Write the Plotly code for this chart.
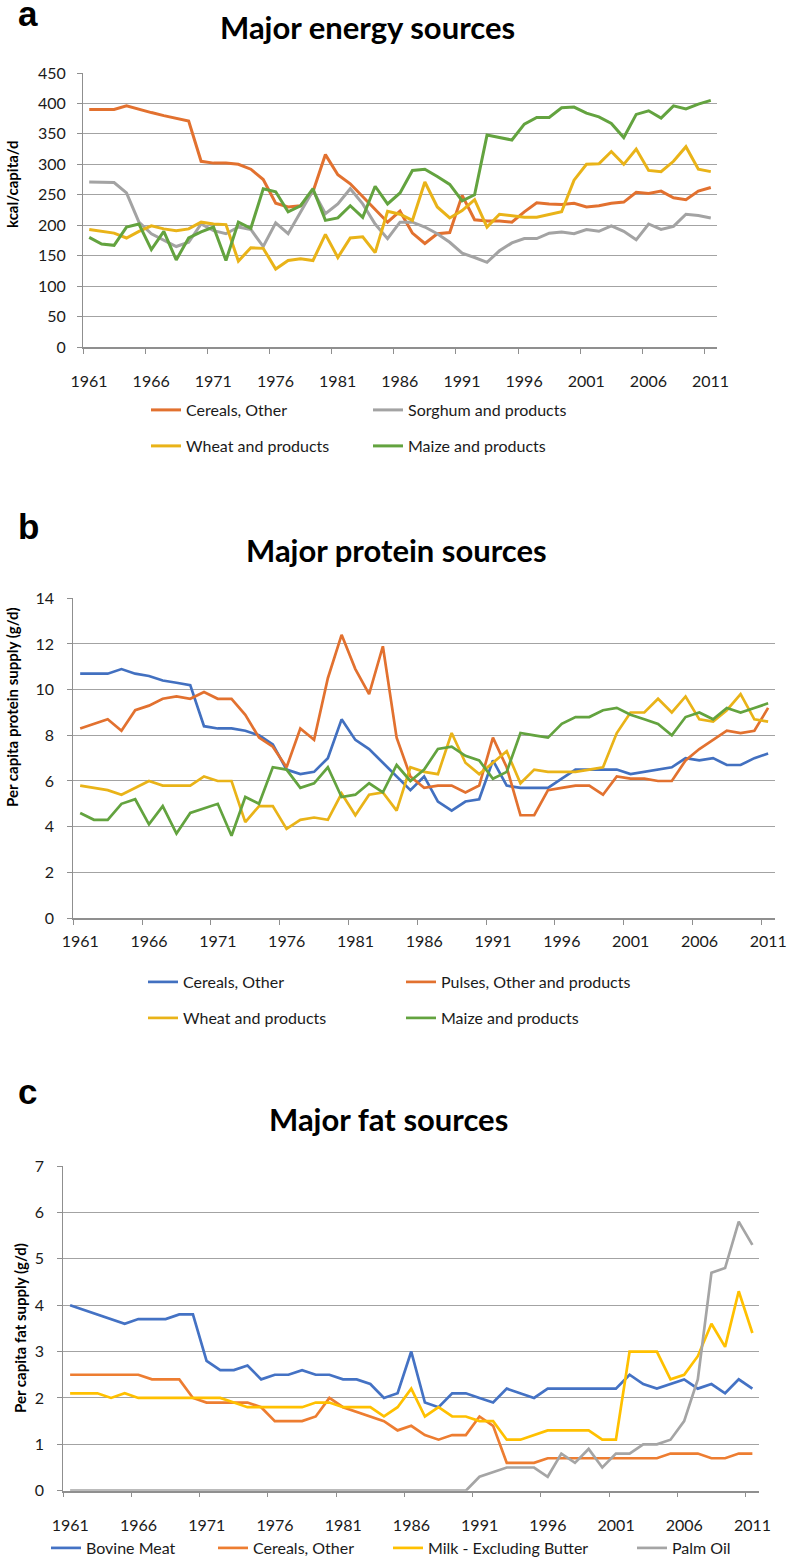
'''
    Three stacked line charts of major energy, protein and fat sources, 1961-2011.
'''
import plotly.graph_objects as go

years = list(range(1961, 2012))
tick_years = years[::5]

# a - energy (kcal/capita/d)
energy_cereals_other = [390, 390, 390, 396, 390, 385, 380, 375, 371, 305,
                        302, 302, 300, 292, 275, 236, 230, 232, 255, 316,
                        283, 268, 247, 227, 205, 223, 187, 170, 186, 188,
                        249, 209, 207, 207, 205, 222, 237, 235, 234, 236,
                        230, 232, 236, 238, 254, 252, 256, 245, 242, 256, 262]
energy_sorghum = [271, 270, 270, 253, 205, 186, 175, 165, 172, 202,
                  191, 186, 197, 193, 165, 204, 186, 222, 257, 219,
                  235, 260, 235, 202, 178, 205, 205, 197, 186, 172,
                  154, 147, 139, 158, 171, 178, 178, 187, 189, 186,
                  193, 190, 199, 190, 176, 202, 193, 198, 218, 216, 212]
energy_wheat = [193, 190, 187, 179, 190, 199, 194, 191, 194, 205,
                202, 201, 141, 163, 162, 128, 142, 145, 142, 185,
                147, 179, 181, 155, 223, 218, 208, 271, 230, 212,
                224, 242, 197, 218, 215, 213, 213, 218, 222, 274,
                300, 301, 321, 300, 325, 290, 288, 305, 329, 292, 288]
energy_maize = [180, 169, 167, 197, 202, 160, 190, 143, 179, 189,
                197, 142, 205, 195, 260, 255, 222, 232, 260, 208,
                212, 232, 213, 264, 235, 253, 290, 292, 280, 267,
                240, 250, 348, 344, 340, 366, 377, 377, 393, 394,
                384, 378, 367, 344, 382, 388, 376, 396, 391, 399, 405]

# b - protein (g/d)
protein_cereals_other = [10.7, 10.7, 10.7, 10.9, 10.7, 10.6, 10.4, 10.3, 10.2, 8.4,
                         8.3, 8.3, 8.2, 8.0, 7.6, 6.5, 6.3, 6.4, 7.0, 8.7,
                         7.8, 7.4, 6.8, 6.2, 5.6, 6.2, 5.1, 4.7, 5.1, 5.2,
                         6.9, 5.8, 5.7, 5.7, 5.7, 6.1, 6.5, 6.5, 6.5, 6.5,
                         6.3, 6.4, 6.5, 6.6, 7.0, 6.9, 7.0, 6.7, 6.7, 7.0, 7.2]
protein_pulses = [8.3, 8.5, 8.7, 8.2, 9.1, 9.3, 9.6, 9.7, 9.6, 9.9,
                  9.6, 9.6, 8.9, 7.9, 7.5, 6.6, 8.3, 7.8, 10.5, 12.4,
                  10.9, 9.8, 11.9, 7.9, 6.2, 5.7, 5.8, 5.8, 5.5, 5.8,
                  7.9, 6.6, 4.5, 4.5, 5.6, 5.7, 5.8, 5.8, 5.4, 6.2,
                  6.1, 6.1, 6.0, 6.0, 6.9, 7.4, 7.8, 8.2, 8.1, 8.2, 9.2]
protein_wheat = [5.8, 5.7, 5.6, 5.4, 5.7, 6.0, 5.8, 5.8, 5.8, 6.2,
                 6.0, 6.0, 4.2, 4.9, 4.9, 3.9, 4.3, 4.4, 4.3, 5.45,
                 4.5, 5.4, 5.5, 4.7, 6.6, 6.4, 6.3, 8.1, 6.8, 6.3,
                 6.8, 7.3, 5.9, 6.5, 6.4, 6.4, 6.4, 6.5, 6.6, 8.1,
                 9.0, 9.0, 9.6, 9.0, 9.7, 8.7, 8.6, 9.1, 9.8, 8.7, 8.6]
protein_maize = [4.6, 4.3, 4.3, 5.0, 5.2, 4.1, 4.9, 3.7, 4.6, 4.8,
                 5.0, 3.6, 5.3, 5.0, 6.6, 6.5, 5.7, 5.9, 6.6, 5.3,
                 5.4, 5.9, 5.5, 6.7, 6.0, 6.5, 7.4, 7.5, 7.1, 6.9,
                 6.1, 6.4, 8.1, 8.0, 7.9, 8.5, 8.8, 8.8, 9.1, 9.2,
                 8.9, 8.7, 8.5, 8.0, 8.8, 9.0, 8.7, 9.2, 9.0, 9.2, 9.4]

# c - fat (g/d)
fat_bovine = [4.0, 3.9, 3.8, 3.7, 3.6, 3.7, 3.7, 3.7, 3.8, 3.8,
              2.8, 2.6, 2.6, 2.7, 2.4, 2.5, 2.5, 2.6, 2.5, 2.5,
              2.4, 2.4, 2.3, 2.0, 2.1, 3.0, 1.9, 1.8, 2.1, 2.1,
              2.0, 1.9, 2.2, 2.1, 2.0, 2.2, 2.2, 2.2, 2.2, 2.2,
              2.2, 2.5, 2.3, 2.2, 2.3, 2.4, 2.2, 2.3, 2.1, 2.4, 2.2]
fat_cereals_other = [2.5, 2.5, 2.5, 2.5, 2.5, 2.5, 2.4, 2.4, 2.4, 2.0,
                     1.9, 1.9, 1.9, 1.9, 1.8, 1.5, 1.5, 1.5, 1.6, 2.0,
                     1.8, 1.7, 1.6, 1.5, 1.3, 1.4, 1.2, 1.1, 1.2, 1.2,
                     1.6, 1.4, 0.6, 0.6, 0.6, 0.7, 0.7, 0.7, 0.7, 0.7,
                     0.7, 0.7, 0.7, 0.7, 0.8, 0.8, 0.8, 0.7, 0.7, 0.8, 0.8]
fat_milk = [2.1, 2.1, 2.1, 2.0, 2.1, 2.0, 2.0, 2.0, 2.0, 2.0,
            2.0, 2.0, 1.9, 1.8, 1.8, 1.8, 1.8, 1.8, 1.9, 1.9,
            1.8, 1.8, 1.8, 1.6, 1.8, 2.2, 1.6, 1.8, 1.6, 1.6,
            1.5, 1.5, 1.1, 1.1, 1.2, 1.3, 1.3, 1.3, 1.3, 1.1,
            1.1, 3.0, 3.0, 3.0, 2.4, 2.5, 2.9, 3.6, 3.1, 4.3, 3.4]
fat_palm_oil = [0, 0, 0, 0, 0, 0, 0, 0, 0, 0,
                0, 0, 0, 0, 0, 0, 0, 0, 0, 0,
                0, 0, 0, 0, 0, 0, 0, 0, 0, 0,
                0.3, 0.4, 0.5, 0.5, 0.5, 0.3, 0.8, 0.6, 0.9, 0.5,
                0.8, 0.8, 1.0, 1.0, 1.1, 1.5, 2.4, 4.7, 4.8, 5.8, 5.3]

W, H = 787, 1565


def fx(px):
    return px / W


def fy(py):
    return 1 - py / H


FONT = "Lato"
AXIS_GREY = "#8f8f8f"
GRID_GREY = "#a3a3a3"
TEXT = "#1a1a1a"

ORANGE, GREY, YELLOW, GREEN, BLUE = "#E2712F", "#A3A3A3", "#E9B318", "#63A33F", "#4270C0"

fig = go.Figure()

# panel, name, values, colour, width, legend slot (line start x, row y) in px
series = [
    (1, "Cereals, Other", energy_cereals_other, ORANGE, 3, (148, 410)),
    (1, "Sorghum and products", energy_sorghum, GREY, 3, (370, 410)),
    (1, "Wheat and products", energy_wheat, YELLOW, 3, (148, 446)),
    (1, "Maize and products", energy_maize, GREEN, 3, (370, 446)),
    (2, "Cereals, Other", protein_cereals_other, BLUE, 2.7, (145, 982)),
    (2, "Pulses, Other and products", protein_pulses, ORANGE, 2.7, (403, 982)),
    (2, "Wheat and products", protein_wheat, YELLOW, 2.7, (145, 1018)),
    (2, "Maize and products", protein_maize, GREEN, 2.7, (403, 1018)),
    (3, "Bovine Meat", fat_bovine, "#4472C4", 2.7, (48, 1548)),
    (3, "Cereals, Other", fat_cereals_other, "#ED7D31", 2.7, (215, 1548)),
    (3, "Milk - Excluding Butter", fat_milk, "#FFC000", 2.7, (390, 1548)),
    (3, "Palm Oil", fat_palm_oil, "#A5A5A5", 2.7, (634, 1548)),
]

legend_layout = {}
for i, (panel, name, vals, color, width, (lx, ly)) in enumerate(series):
    assert len(vals) == len(years), name
    leg = "legend" if i == 0 else "legend%d" % (i + 1)
    sfx = "" if panel == 1 else str(panel)
    fig.add_trace(go.Scatter(x=years, y=vals, mode="lines", name=name,
                             line=dict(color=color, width=width),
                             xaxis="x" + sfx, yaxis="y" + sfx, legend=leg,
                             hovertemplate="%{x}: %{y}<extra>" + name + "</extra>"))
    legend_layout[leg] = dict(x=fx(lx - 2), y=fy(ly), xanchor="left", yanchor="middle",
                              bgcolor="rgba(0,0,0,0)", borderwidth=0,
                              font=dict(family=FONT, size=16, color=TEXT))

# panel geometry in px: left, right, bottom, top, y range, y step,
# label shift, x label standoff, y label standoff
panels = [
    (83, 717, 347, 73, [0, 450], 50, 6, 14, 8),
    (73.3, 775, 918, 598.3, [0, 14], 2, 7, 3, 10),
    (63.3, 759.2, 1490.7, 1166, [0, 7], 1, 7, 14, 10),
]
for n, (x0, x1, yb, yt, yr, ystep, shift, xstand, ystand) in enumerate(panels, start=1):
    sfx = "" if n == 1 else str(n)
    fig.update_layout({
        "xaxis" + sfx: dict(domain=[fx(x0), fx(x1)], range=[1960.5, 2011.5], anchor="y" + sfx,
                            tickmode="array", tickvals=[y - 0.5 for y in tick_years],
                            ticktext=[str(y) for y in tick_years],
                            ticks="outside", ticklen=5, tickcolor=AXIS_GREY, tickwidth=1,
                            ticklabelshift=shift, ticklabelstandoff=xstand,
                            ticklabeloverflow="allow",
                            showline=True, linecolor=AXIS_GREY, linewidth=1.5,
                            showgrid=False, zeroline=False, automargin=False,
                            tickfont=dict(family=FONT, size=16, color=TEXT)),
        "yaxis" + sfx: dict(domain=[fy(yb), fy(yt)], range=yr, dtick=ystep,
                            anchor="x" + sfx, ticks="outside", ticklen=5, tickcolor=AXIS_GREY,
                            ticklabelstandoff=ystand, automargin=False,
                            showline=True, linecolor=AXIS_GREY, linewidth=1,
                            showgrid=True, gridcolor=GRID_GREY, gridwidth=1.2, zeroline=False,
                            tickfont=dict(family=FONT, size=16, color=TEXT)),
    })

annotations = []
# panel letters
for letter, (ax, ay) in zip("abc", [(27.5, 14), (29, 526), (27, 1091)]):
    annotations.append(dict(text="<b>" + letter + "</b>", x=fx(ax), y=fy(ay),
                            font=dict(family="Liberation Sans", size=35, color="black")))
# titles
for title, (ax, ay) in zip(["Major energy sources", "Major protein sources", "Major fat sources"],
                           [(367, 27), (396, 550), (388, 1119)]):
    annotations.append(dict(text="<b>" + title + "</b>", x=fx(ax), y=fy(ay),
                            font=dict(family=FONT, size=31, color="black")))
# y axis titles
for ytitle, (ax, ay) in zip(["kcal/capita/d", "Per capita protein supply (g/d)",
                             "Per capita fat supply (g/d)"],
                            [(12, 184), (12, 707), (20, 1328)]):
    annotations.append(dict(text="<b>" + ytitle + "</b>", x=fx(ax), y=fy(ay),
                            textangle=-90,
                            font=dict(family=FONT, size=15, color="black")))
for a in annotations:
    a.update(xref="paper", yref="paper", showarrow=False, xanchor="center", yanchor="middle")

fig.update_layout(width=W, height=H,
                  margin=dict(l=0, r=0, t=0, b=0, autoexpand=False),
                  paper_bgcolor="white", plot_bgcolor="white",
                  annotations=annotations, showlegend=True, **legend_layout)

# drop the browser's default 8px body margin so the figure fills the window exactly
fig.write_html("out.html", config={"displayModeBar": False},
               post_script="document.body.style.margin = '0';")
